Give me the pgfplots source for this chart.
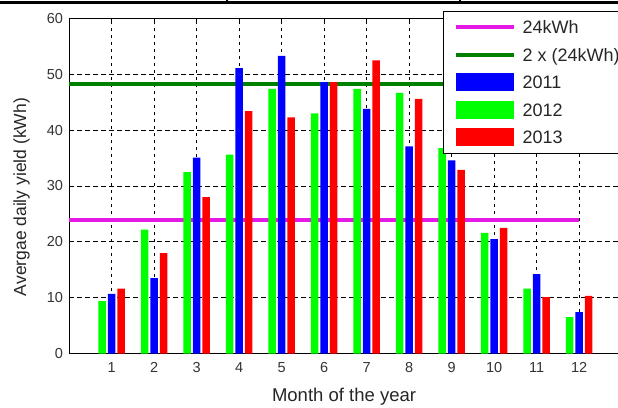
\documentclass[border=0pt]{standalone}
\usepackage{pgfplots}
\pgfplotsset{compat=1.18}
\usepackage{fontspec}
\setmainfont{Liberation Sans}
\definecolor{dgreen}{rgb}{0,0.5,0}
\definecolor{bgreen}{rgb}{0,1,0}
\definecolor{mag}{rgb}{0.9,0.1,0.9}
\pgfplotsset{
  linelegend/.style={legend image code/.code={\path[draw=none,fill=none] (0pt,-9.5pt) rectangle (58pt,9.5pt);\draw[##1] (0pt,0pt) -- (58pt,0pt);}},
  barlegend/.style={legend image code/.code={\path[draw=none,fill=none] (0pt,-9.5pt) rectangle (58pt,9.5pt);\fill[##1] (0pt,-9pt) rectangle (58pt,9pt);}},
}
\begin{document}
\begin{tikzpicture}
\begin{axis}[
  scale only axis,
  width=552.5pt, height=335pt,
  at={(69.2pt,53.5pt)}, anchor=south west,
  xmin=0, xmax=13, ymin=0, ymax=60,
  xtick={1,2,3,4,5,6,7,8,9,10,11,12},
  ytick={0,10,20,30,40,50,60},
  /pgf/number format/assume math mode=true,
  tick align=inside,
  major tick length=5pt,
  tick style={black, line width=0.8pt},
  axis line style={black, line width=1.3pt},
  grid=major,
  major x grid style={black, line width=0.7pt, dash pattern=on 3pt off 4pt},
  major y grid style={black, line width=0.7pt, dash pattern=on 5pt off 3pt},
  tick label style={font=\fontsize{14.5}{17}\selectfont, text=black!80},
  xticklabel style={anchor=north, inner sep=0pt, yshift=-9pt},
  yticklabel style={anchor=east, inner sep=0pt, xshift=-6pt},
  xlabel={Month of the year},
  ylabel={Avergae daily yield (kWh)},
  xlabel style={font=\fontsize{18.5}{21}\selectfont, text=black!85, at={(rel axis cs:0.4974,-0.1430)}, anchor=base},
  ylabel style={font=\fontsize{17.5}{21}\selectfont, text=black!85, at={(rel axis cs:-0.0863,0.467)}, anchor=center},
  legend style={at={(rel axis cs:0.6766,1.0239)}, anchor=north west,
    draw=black, line width=1.3pt, fill=white,
    inner xsep=10pt, inner ysep=6.5pt,
    row sep=8.5pt, column sep=7pt,
    font=\fontsize{18}{21}\selectfont,
    nodes={inner sep=0pt, text height=16pt, text depth=3pt, text=black!85}},
  legend cell align=left,
]
\addplot[mag, line width=4pt, linelegend]
  coordinates {(0,24) (12,24)};
\addlegendentry{24kWh}
\addplot[dgreen, line width=4pt, linelegend]
  coordinates {(0,48.3) (13,48.3)};
\addlegendentry{2 x (24kWh)}
\addplot[ybar, bar width=7.5pt, bar shift=0pt, fill=blue, draw=none, barlegend]
  coordinates {(1,10.7) (2,13.5) (3,35.1) (4,51.1) (5,53.3) (6,48.6) (7,43.8) (8,37.1) (9,34.6) (10,20.5) (11,14.2) (12,7.4)};
\addlegendentry{2011}
\addplot[ybar, bar width=7.5pt, bar shift=-9.5pt, fill=bgreen, draw=none, barlegend]
  coordinates {(1,9.4) (2,22.2) (3,32.5) (4,35.6) (5,47.4) (6,43.0) (7,47.4) (8,46.7) (9,36.8) (10,21.6) (11,11.6) (12,6.5)};
\addlegendentry{2012}
\addplot[ybar, bar width=7.5pt, bar shift=9.5pt, fill=red, draw=none, barlegend]
  coordinates {(1,11.6) (2,18.0) (3,28.0) (4,43.4) (5,42.3) (6,48.6) (7,52.5) (8,45.6) (9,32.9) (10,22.5) (11,10.1) (12,10.3)};
\addlegendentry{2013}
\end{axis}
\draw[line width=3pt] (0pt,404.5pt) -- (618pt,404.5pt);
\draw[line width=1.5pt] (227pt,407pt) -- (227pt,403pt);
\draw[line width=1.5pt] (460pt,407pt) -- (460pt,403pt);
\pgfresetboundingbox
\path[use as bounding box] (0pt,0pt) rectangle (618pt,407pt);
\end{tikzpicture}
\end{document}
